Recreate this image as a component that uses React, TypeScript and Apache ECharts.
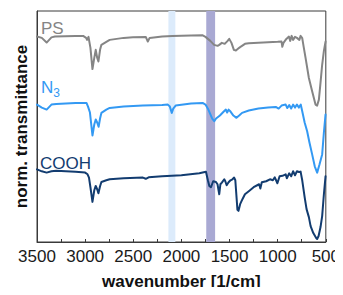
import React, { useEffect, useRef } from "react";
import * as echarts from "echarts";

// [wavenumber (1/cm), normalized transmittance (arb. units, offset per trace)]
const psData: number[][] = [
  [3500, 206.3], [3450, 205], [3400, 200.3], [3350, 205.5], [3314, 206.3], [3100, 207], [3021, 207],
  [2990, 205], [2980, 203], [2965, 206], [2945, 195], [2924, 173.7], [2905, 185], [2890, 193],
  [2875, 185], [2862, 181.3], [2845, 193], [2831, 198], [2780, 201], [2745, 203], [2600, 205],
  [2503, 205.7], [2370, 206], [2349, 201.3], [2330, 205], [2200, 206.5], [2093, 207], [1900, 207.5],
  [1783, 207.7], [1750, 206], [1700, 202], [1660, 198], [1624, 197], [1607, 198], [1580, 200],
  [1550, 199], [1520, 202], [1503, 204], [1480, 200], [1455, 193], [1434, 192.3], [1400, 195],
  [1382, 196.3], [1340, 199], [1300, 199.7], [1200, 200], [1100, 200.5], [1000, 201], [960, 201.3],
  [952, 196], [940, 200], [910, 204], [883, 206.3], [870, 202], [855, 207], [840, 203], [820, 206],
  [800, 205], [775, 203], [762, 207], [745, 204.7], [730, 196], [710, 184.7], [676, 164.7],
  [642, 151.3], [607, 138], [590, 137], [572, 143], [555, 160], [538, 178], [520, 192], [503, 201.3],
];

const n3Data: number[][] = [
  [3500, 138], [3450, 135], [3400, 133], [3350, 138], [3300, 138.7], [3100, 139.5], [2986, 139.7],
  [2970, 136], [2950, 130], [2924, 107], [2905, 118], [2890, 123], [2875, 120], [2860, 115.7],
  [2845, 124], [2831, 129.7], [2780, 133], [2745, 134.7], [2600, 136], [2400, 137], [2200, 137.5],
  [2141, 138], [2120, 136], [2100, 129.7], [2085, 134], [2060, 137], [1900, 139], [1780, 139.7],
  [1750, 138], [1720, 133], [1680, 124], [1659, 121.3], [1640, 124], [1600, 127], [1560, 131],
  [1538, 133], [1525, 130], [1510, 133], [1490, 131], [1460, 127], [1428, 124.7], [1400, 127],
  [1370, 129.7], [1300, 132], [1200, 134], [1100, 135], [1020, 135.7], [990, 134], [960, 137],
  [917, 138], [900, 134.5], [880, 137.5], [860, 134], [840, 138], [820, 135], [800, 138], [780, 135],
  [760, 138], [745, 131.3], [720, 120], [694, 111.3], [670, 100], [642, 88], [615, 76], [590, 69.7],
  [565, 78], [538, 88], [520, 110], [503, 128],
];

const coohData: number[][] = [
  [3500, 73], [3450, 71], [3400, 69.7], [3350, 71], [3300, 71.5], [3100, 70.5], [3000, 69.7],
  [2975, 68], [2960, 64.7], [2945, 55], [2924, 40.3], [2905, 52], [2890, 56.3], [2875, 53],
  [2862, 49], [2845, 56], [2831, 60.3], [2780, 62], [2745, 63], [2600, 64], [2400, 64.7],
  [2370, 63.5], [2340, 65], [2200, 66], [2000, 67], [1814, 69], [1745, 70.5], [1725, 62],
  [1710, 56.3], [1693, 55], [1670, 61], [1641, 60.3], [1625, 58], [1607, 48], [1595, 58],
  [1580, 59.7], [1555, 63], [1545, 61.3], [1530, 57], [1510, 60], [1490, 62], [1470, 63],
  [1452, 64.7], [1440, 62], [1418, 32.3], [1407, 31.3], [1390, 38], [1366, 43], [1340, 48],
  [1297, 51.3], [1250, 55], [1193, 58], [1180, 53.7], [1165, 60], [1120, 61], [1080, 63],
  [1050, 62], [1030, 65], [1003, 59], [980, 66], [950, 66.5], [917, 68], [905, 64], [880, 69],
  [860, 66], [840, 71], [820, 67], [800, 71], [779, 70.3], [762, 70.7], [745, 62], [720, 45],
  [700, 33], [676, 25], [658, 16], [630, 9], [600, 4], [590, 3], [575, 6], [555, 15], [538, 26],
  [520, 48], [503, 66],
];

// highlighted bands [from, to] in 1/cm
const azideBand = [2135, 2063];
const carbonylBand = [1742, 1650];

const xTickLabels = [3500, 3000, 2500, 2000, 1500, 1000, 500];

const FONT = "'Liberation Sans', Arial, Helvetica, sans-serif";

export default function App() {
  const ref = useRef<HTMLDivElement>(null);

  useEffect(() => {
    if (!ref.current) return;
    const chart = echarts.init(ref.current, undefined, { renderer: "svg" });
    const line = (name: string, data: number[][], color: string) => ({
      type: "line",
      name,
      data,
      showSymbol: false,
      symbol: "none",
      smooth: false,
      lineStyle: { color, width: 2, join: "round", cap: "round" },
      itemStyle: { color },
      z: 3,
    });
    chart.setOption({
      animation: false,
      textStyle: { fontFamily: FONT },
      grid: {
        left: 37,
        right: 16,
        top: 11,
        bottom: 52,
        show: true,
        borderColor: "#3a3a3a",
        borderWidth: 1,
        backgroundColor: "transparent",
      },
      xAxis: {
        type: "value",
        inverse: true,
        min: 500,
        max: 3500,
        interval: 250,
        axisLine: { show: true, lineStyle: { color: "#3a3a3a", width: 1 } },
        axisTick: { show: true, inside: true, length: 3, lineStyle: { color: "#3a3a3a" } },
        splitLine: { show: false },
        axisLabel: {
          fontSize: 17,
          color: "#1a1a1a",
          margin: 6,
          fontFamily: FONT,
          formatter: (v: number) => (xTickLabels.includes(v) ? String(v) : ""),
        },
        name: "wavenumber [1/cm]",
        nameLocation: "middle",
        nameGap: 31,
        nameTextStyle: { fontSize: 17, fontWeight: "bold", color: "#111", fontFamily: FONT },
      },
      yAxis: {
        type: "value",
        min: 0,
        max: 232,
        axisLine: { show: true, lineStyle: { color: "#3a3a3a", width: 1 } },
        axisTick: { show: false },
        axisLabel: { show: false },
        splitLine: { show: false },
        name: "norm. transmittance",
        nameLocation: "middle",
        nameGap: 7,
        nameTextStyle: { fontSize: 17, fontWeight: "bold", color: "#111", fontFamily: FONT },
      },
      series: [
        {
          type: "line",
          data: [],
          z: 1,
          markArea: {
            silent: true,
            data: [
              [
                { xAxis: azideBand[0], itemStyle: { color: "#dcebfb" } },
                { xAxis: azideBand[1] },
              ],
              [
                { xAxis: carbonylBand[0], itemStyle: { color: "#a9a9d3" } },
                { xAxis: carbonylBand[1] },
              ],
            ],
          },
        },
        line("PS", psData, "#858585"),
        line("N3", n3Data, "#3399f3"),
        line("COOH", coohData, "#123c70"),
      ],
      graphic: [
        {
          type: "text",
          left: 41,
          top: 20,
          style: { text: "PS", fontSize: 17, fill: "#858585", fontFamily: FONT },
        },
        {
          type: "text",
          left: 41,
          top: 79,
          style: {
            text: "{n|N}{s|3}",
            fontFamily: FONT,
            rich: {
              n: { fontSize: 17, fill: "#3399f3", fontFamily: FONT },
              s: { fontSize: 12, fill: "#3399f3", fontFamily: FONT, padding: [10, 0, 0, 0] },
            },
          },
        },
        {
          type: "text",
          left: 40,
          top: 155,
          style: { text: "COOH", fontSize: 17, fill: "#123c70", fontFamily: FONT },
        },
      ],
    });
    return () => chart.dispose();
  }, []);

  return <div ref={ref} style={{ width: 343, height: 295, margin: -8 }} />;
}
